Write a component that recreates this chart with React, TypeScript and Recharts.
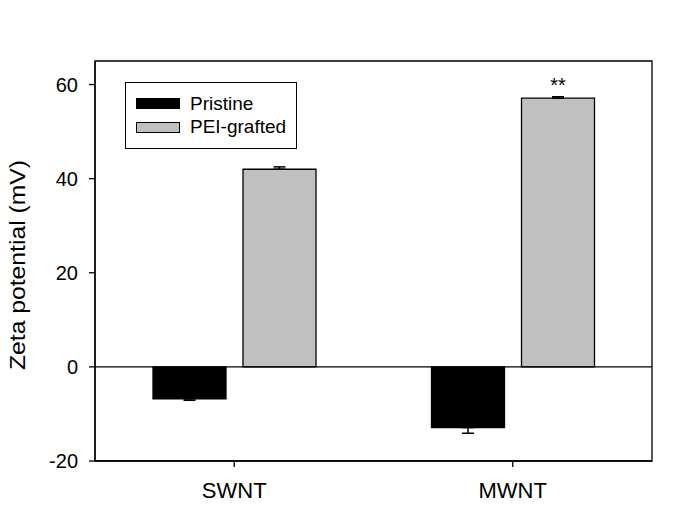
import React from 'react';
import {
  BarChart,
  Bar,
  XAxis,
  YAxis,
  ErrorBar,
  ReferenceLine,
  ReferenceArea,
  LabelList,
  Legend,
} from 'recharts';

// valores
const categories = ['SWNT', 'MWNT'];
const pristine = [-6.8, -12.9];
const pristineErr = [0.3, 1.2];
const peiGrafted = [42.0, 57.1];
const peiErr = [0.5, 0.3];
const significance = ['', '**'];
const yTicks = [-20, 0, 20, 40, 60];

const series = [
  { key: 'pristine', name: 'Pristine', fill: '#000000' },
  { key: 'pei', name: 'PEI-grafted', fill: '#c0c0c0' },
];

const FONT = '"Liberation Sans", Arial, sans-serif';

// barras negativas: error solo hacia abajo, positivas: solo hacia arriba
const data = categories.map((name, i) => ({
  name,
  pristine: pristine[i],
  pristineErr: pristine[i] < 0 ? [pristineErr[i], 0] : [0, pristineErr[i]],
  pei: peiGrafted[i],
  peiErr: peiGrafted[i] < 0 ? [peiErr[i], 0] : [0, peiErr[i]],
  sig: significance[i],
}));

const LegendBox = () => (
  <div
    style={{
      border: '1.3px solid #000',
      background: '#fff',
      padding: '9px 0 10px 10px',
      fontFamily: FONT,
      fontSize: 19,
      color: '#000',
      boxSizing: 'border-box',
      width: 172,
      height: 67,
      whiteSpace: 'nowrap',
    }}
  >
    {series.map((s) => (
      <div key={s.key} style={{ display: 'flex', alignItems: 'center', height: 23.5 }}>
        <div
          style={{
            width: 44,
            height: 11,
            flexShrink: 0,
            background: s.fill,
            border: '1.3px solid #000',
            boxSizing: 'border-box',
            marginRight: 10,
          }}
        />
        <span>{s.name}</span>
      </div>
    ))}
  </div>
);

const YLabel = () => (
  <text
    x={17.5}
    y={265}
    transform="rotate(-90, 17.5, 265)"
    textAnchor="middle"
    dominantBaseline="central"
    fontFamily={FONT}
    fontSize={22}
    textLength={210}
    lengthAdjust="spacingAndGlyphs"
    fill="#000"
  >
    Zeta potential (mV)
  </text>
);

export default function App() {
  return (
    <div style={{ position: 'absolute', left: 0, top: 0, width: 685, height: 521, background: '#fff' }}>
      <BarChart
        width={685}
        height={521}
        data={data}
        margin={{ top: 61, right: 33, bottom: 0, left: 0 }}
        barSize={73}
        barGap={17}
      >
        <ReferenceArea y1={-20} y2={65} fill="none" stroke="#000" strokeWidth={1.3} ifOverflow="visible" />
        <XAxis
          dataKey="name"
          height={60}
          axisLine={{ stroke: '#000', strokeWidth: 1.3 }}
          tickLine={{ stroke: '#000', strokeWidth: 1.3 }}
          tickSize={6}
          tickMargin={15}
          tick={{ fill: '#000', fontSize: 22, fontFamily: FONT }}
        />
        <YAxis
          width={95}
          domain={[-20, 65]}
          ticks={yTicks}
          allowDataOverflow
          axisLine={{ stroke: '#000', strokeWidth: 1.3 }}
          tickLine={{ stroke: '#000', strokeWidth: 1.3 }}
          tickSize={6}
          tickMargin={11}
          tick={{ fill: '#000', fontSize: 20, fontFamily: FONT }}
          label={{ content: YLabel }}
        />
        <ReferenceLine y={0} stroke="#000" strokeWidth={1.3} />
        <Legend
          layout="vertical"
          verticalAlign="middle"
          align="center"
          content={() => <LegendBox />}
          wrapperStyle={{ left: 125, top: 82, width: 172, height: 67 }}
        />
        <Bar
          dataKey="pristine"
          name="Pristine"
          fill="#000000"
          stroke="#000"
          strokeWidth={1.3}
          isAnimationActive={false}
        >
          <ErrorBar dataKey="pristineErr" width={6} stroke="#000" strokeWidth={1.5} />
        </Bar>
        <Bar
          dataKey="pei"
          name="PEI-grafted"
          fill="#c0c0c0"
          stroke="#000"
          strokeWidth={1.3}
          isAnimationActive={false}
        >
          <ErrorBar dataKey="peiErr" width={6} stroke="#000" strokeWidth={1.5} />
          <LabelList
            dataKey="sig"
            position="top"
            offset={6}
            fill="#000"
            fontSize={20}
            fontFamily={FONT}
          />
        </Bar>
      </BarChart>
    </div>
  );
}
